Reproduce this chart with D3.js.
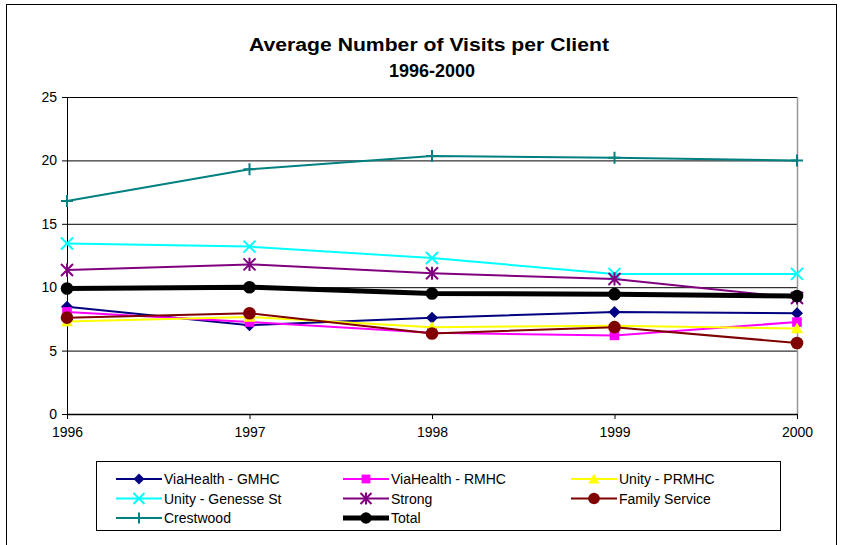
<!DOCTYPE html>
<html>
<head>
<meta charset="utf-8">
<script src="https://cdn.jsdelivr.net/npm/d3@7"></script>
<style>
  body { margin: 0; background: #fff; }
  text { font-family: 'Liberation Sans', Arial, sans-serif; }
</style>
</head>
<body>
<div id="graf"></div>
<script>
// datos
years = [1996, 1997, 1998, 1999, 2000]
yTicks = [0, 5, 10, 15, 20, 25]

gmhc      = [8.45, 7.0, 7.6, 8.05, 7.95]
rmhc      = [8.05, 7.25, 6.4, 6.2, 7.25]
prmhc     = [7.3, 7.65, 6.85, 6.95, 6.75]
genesse   = [13.45, 13.2, 12.3, 11.05, 11.05]
strong    = [11.35, 11.8, 11.1, 10.65, 9.15]
family    = [7.6, 7.95, 6.35, 6.85, 5.6]
crestwood = [16.8, 19.3, 20.35, 20.2, 20.0]
total     = [9.9, 10.0, 9.5, 9.45, 9.3]

series = [
  { name: 'ViaHealth - GMHC',     values: gmhc,      color: '#000080', marker: 'diamond' },
  { name: 'ViaHealth - RMHC',     values: rmhc,      color: '#FF00FF', marker: 'square' },
  { name: 'Unity - PRMHC',        values: prmhc,     color: '#FFFF00', marker: 'triangle' },
  { name: 'Unity - Genesse St',   values: genesse,   color: '#00FFFF', marker: 'x' },
  { name: 'Strong',               values: strong,    color: '#800080', marker: 'star' },
  { name: 'Family Service',       values: family,    color: '#800000', marker: 'circle' },
  { name: 'Crestwood',            values: crestwood, color: '#008080', marker: 'plus' },
  { name: 'Total',                values: total,     color: '#000000', marker: 'circle', width: 5 }
]

ancho_total = 842
alto_total = 545

svg = d3.select('#graf').append('svg')
  .attr('width', ancho_total)
  .attr('height', alto_total)

// marco exterior
svg.append('rect')
  .attr('x', 6.5).attr('y', 4.5)
  .attr('width', 830).attr('height', 560)
  .attr('fill', 'none').attr('stroke', 'black')

margins = { top: 97, left: 67, right: 45, bottom: 131 }
ancho = ancho_total - margins.left - margins.right
alto = alto_total - margins.top - margins.bottom

g = svg.append('g')
  .attr('transform', `translate(${margins.left}, ${margins.top})`)

x = d3.scalePoint().domain(years).range([0, ancho])
y = d3.scaleLinear().domain([0, 25]).range([alto, 0])

// titulo
svg.append('text')
  .attr('x', 429).attr('y', 51)
  .attr('text-anchor', 'middle')
  .attr('font-size', '18px').attr('font-weight', 'bold')
  .attr('textLength', 360).attr('lengthAdjust', 'spacingAndGlyphs')
  .text('Average Number of Visits per Client')
svg.append('text')
  .attr('x', 432).attr('y', 77)
  .attr('text-anchor', 'middle')
  .attr('font-size', '18px').attr('font-weight', 'bold')
  .text('1996-2000')

// lineas de grilla
g.append('g')
  .call(d3.axisLeft(y).tickValues(yTicks).tickFormat('').tickSize(-ancho))
  .call(s => s.select('.domain').remove())
  .selectAll('line').attr('stroke', '#000').attr('stroke-width', 1)

// borde derecho gris
g.append('line')
  .attr('x1', ancho + 0.5).attr('x2', ancho + 0.5)
  .attr('y1', 0).attr('y2', alto)
  .attr('stroke', '#999').attr('stroke-width', 1.5)

// eje y
yAxisG = g.append('g')
  .call(d3.axisLeft(y).tickValues(yTicks).tickSize(5).tickPadding(5))
yAxisG.selectAll('text').attr('font-size', '14px').attr('fill', '#000')
  .attr('font-family', "'Liberation Sans', Arial, sans-serif")

// eje x
xAxisG = g.append('g')
  .attr('transform', `translate(0,${alto})`)
  .call(d3.axisBottom(x).tickSize(5).tickPadding(8).tickSizeOuter(0))
xAxisG.selectAll('text').attr('font-size', '14px').attr('fill', '#000')
  .attr('font-family', "'Liberation Sans', Arial, sans-serif")
xAxisG.select('.domain').attr('stroke-width', 1.5)

function marker(sel, type, color, sz) {
  if (type == 'diamond') {
    sel.append('path').attr('d', `M0,${-sz}L${sz},0L0,${sz}L${-sz},0Z`).attr('fill', color)
  } else if (type == 'square') {
    sel.append('rect').attr('x', -sz * 0.8).attr('y', -sz * 0.8)
      .attr('width', sz * 1.6).attr('height', sz * 1.6).attr('fill', color)
  } else if (type == 'triangle') {
    sel.append('path').attr('d', `M0,${-sz}L${sz},${sz * 0.8}L${-sz},${sz * 0.8}Z`).attr('fill', color)
  } else if (type == 'circle') {
    sel.append('circle').attr('r', sz * 1.05).attr('fill', color)
  } else if (type == 'x') {
    sel.append('path').attr('d', `M${-sz},${-sz}L${sz},${sz}M${-sz},${sz}L${sz},${-sz}`)
      .attr('stroke', color).attr('stroke-width', 2)
  } else if (type == 'star') {
    sel.append('path').attr('d', `M${-sz},${-sz}L${sz},${sz}M${-sz},${sz}L${sz},${-sz}M0,${-sz * 1.1}L0,${sz * 1.1}`)
      .attr('stroke', color).attr('stroke-width', 2)
  } else if (type == 'plus') {
    sel.append('path').attr('d', `M${-sz},0L${sz},0M0,${-sz}L0,${sz}`)
      .attr('stroke', color).attr('stroke-width', 2)
  }
}

linea = d3.line().x((d, i) => x(years[i])).y(d => y(d))

series.forEach(s => {
  g.append('path')
    .datum(s.values)
    .attr('d', linea)
    .attr('fill', 'none')
    .attr('stroke', s.color)
    .attr('stroke-width', s.width || 2)
  s.values.forEach((v, i) => {
    m = g.append('g').attr('transform', `translate(${x(years[i])},${y(v)})`)
    marker(m, s.marker, s.color, 6)
  })
})

// Leyenda
leg = svg.append('g')
leg.append('rect')
  .attr('x', 96.5).attr('y', 461.5)
  .attr('width', 684).attr('height', 69)
  .attr('fill', 'white').attr('stroke', 'black')

colX = [116, 343, 571]
series.forEach((s, i) => {
  cx = colX[i % 3]
  cy = 479 + Math.floor(i / 3) * 19.5
  leg.append('line')
    .attr('x1', cx).attr('x2', cx + 46)
    .attr('y1', cy).attr('y2', cy)
    .attr('stroke', s.color).attr('stroke-width', s.width || 2)
  m = leg.append('g').attr('transform', `translate(${cx + 23},${cy})`)
  marker(m, s.marker, s.color, 5.5)
  leg.append('text')
    .attr('x', cx + 48).attr('y', cy + 5)
    .attr('font-size', '14px')
    .text(s.name)
})
</script>
</body>
</html>
